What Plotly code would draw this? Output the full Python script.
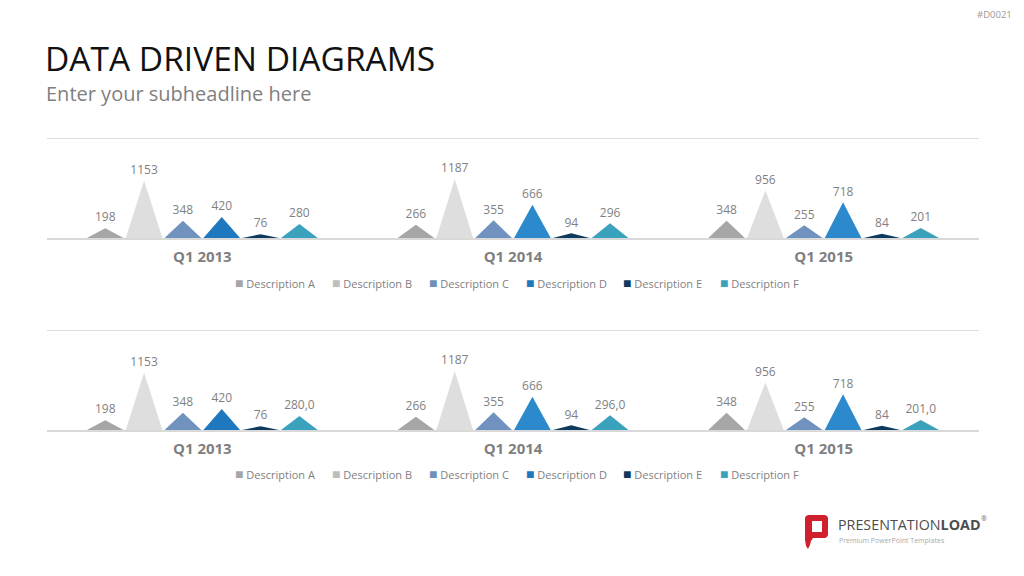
import plotly.graph_objects as go

W, H = 1024, 576

categories = ["Q1 2013", "Q1 2014", "Q1 2015"]
series_names = ["Description A", "Description B", "Description C",
                "Description D", "Description E", "Description F"]
desc_a = [198, 266, 348]
desc_b = [1153, 1187, 956]
desc_c = [348, 355, 255]
desc_d = [420, 666, 718]
desc_e = [76, 94, 84]
desc_f = [280, 296, 201]
series_values = [desc_a, desc_b, desc_c, desc_d, desc_e, desc_f]

legend_colors = ["#A6A6A6", "#BDBDBD", "#7090BA", "#1F78BE", "#0E3A5E", "#3AA2BC"]
point_colors = [
    ["#A6A6A6"] * 3,
    ["#DEDEDE"] * 3,
    ["#7092BE"] * 3,
    ["#1F78BE", "#2B89CC", "#2B89CC"],
    ["#0E3A5E"] * 3,
    ["#3AA2BC"] * 3,
]
# decimals shown per series in each chart (chart 2 shows F with one decimal)
decimals_chart1 = [0, 0, 0, 0, 0, 0]
decimals_chart2 = [0, 0, 0, 0, 0, 1]

FONT = "Open Sans"
GRAY = "#7F7F7F"
LABEL_PAD = 75  # small lift of value labels above the peaks (data units)

def px(x):
    return x / W

def py(y):
    return 1 - y / H

def fmt(v, dec):
    return (f"{v:.{dec}f}").replace(".", ",")

fig = go.Figure()

slot = 0.125
tri_w = 0.118

charts = [
    dict(xa="x", ya="y", legend="legend", dec=decimals_chart1),
    dict(xa="x2", ya="y2", legend="legend2", dec=decimals_chart2),
]

for ch in charts:
    for s, (name, vals) in enumerate(zip(series_names, series_values)):
        off = (s - 2.5) * slot
        for c, v in enumerate(vals):
            cx = c + off
            fig.add_trace(go.Scatter(
                x=[cx - tri_w / 2, cx, cx + tri_w / 2, cx - tri_w / 2],
                y=[0, v, 0, 0],
                mode="lines", fill="toself",
                fillcolor=point_colors[s][c], line=dict(width=0),
                xaxis=ch["xa"], yaxis=ch["ya"],
                showlegend=False, hoverinfo="skip",
            ))
        fig.add_trace(go.Scatter(
            x=[c + off for c in range(len(vals))], y=[v + LABEL_PAD for v in vals],
            mode="text",
            text=[fmt(v, ch["dec"][s]) for v in vals],
            textposition="top center",
            textfont=dict(family=FONT, size=12, color=GRAY),
            xaxis=ch["xa"], yaxis=ch["ya"],
            showlegend=False, hoverinfo="skip", cliponaxis=False,
        ))
    for s, name in enumerate(series_names):
        fig.add_trace(go.Scatter(
            x=[None], y=[None], mode="markers",
            name=f'<span style="color:{legend_colors[s]};font-size:14px">■</span> {name}',
            marker=dict(symbol="square", size=1, color="rgba(0,0,0,0)"),
            xaxis=ch["xa"], yaxis=ch["ya"], legend=ch["legend"],
            legendwidth=(90 if s == len(series_names) - 1 else None),
        ))

# 2000 units = 99.5 px; top gridline at 2000
SCALE = 99.5 / 2000
YMAX = 2030
xdom = [px(47), px(979)]
common_x = dict(
    domain=xdom, range=[-0.5, 2.5], tickvals=[0, 1, 2], ticktext=categories,
    showgrid=False, zeroline=False, showline=True, linecolor="#D9D9D9", linewidth=2,
    ticks="outside", ticklen=4, tickcolor="rgba(0,0,0,0)",
    tickfont=dict(family=FONT, size=15, color=GRAY, weight="bold"),
    fixedrange=True,
)
common_y = dict(
    range=[0, YMAX], tickvals=[2000], showticklabels=False, showgrid=True,
    gridcolor="#DDDDDD", gridwidth=1, zeroline=False, showline=False, fixedrange=True,
)

legend_common = dict(
    orientation="h", xanchor="left", x=px(195), yanchor="middle",
    font=dict(family=FONT, size=11, color=GRAY), bgcolor="rgba(0,0,0,0)",
    itemwidth=30, entrywidth=52, entrywidthmode="pixels", tracegroupgap=0,
)

fig.update_layout(
    width=W, height=H, margin=dict(l=0, r=0, t=0, b=0),
    paper_bgcolor="white", plot_bgcolor="white",
    xaxis=dict(**common_x, anchor="y"),
    yaxis=dict(**common_y, domain=[py(238), py(238 - YMAX * SCALE)], anchor="x"),
    xaxis2=dict(**common_x, anchor="y2"),
    yaxis2=dict(**common_y, domain=[py(430), py(430 - YMAX * SCALE)], anchor="x2"),
    legend=dict(**legend_common, y=py(284)),
    legend2=dict(**legend_common, y=py(475)),
    showlegend=True,
)

annotations = [
    dict(text="DATA DRIVEN DIAGRAMS", x=px(43), y=py(58), xanchor="left", yanchor="middle",
         font=dict(family=FONT, size=33.5, color="#111111")),
    dict(text="Enter your subheadline here", x=px(44), y=py(94), xanchor="left", yanchor="middle",
         font=dict(family=FONT, size=20, color="#808080")),
    dict(text="#D0021", x=px(1014), y=py(14), xanchor="right", yanchor="middle",
         font=dict(family=FONT, size=9.5, color="#999999")),
    dict(text="PRESENTATION<b>LOAD</b>", x=px(836), y=py(524), xanchor="left", yanchor="middle",
         font=dict(family=FONT, size=14.3, color="#4D4D4D")),
    dict(text="®", x=px(979), y=py(518), xanchor="left", yanchor="middle",
         font=dict(family=FONT, size=7, color="#666666")),
    dict(text="Premium PowerPoint Templates", x=px(837), y=py(540), xanchor="left", yanchor="middle",
         font=dict(family=FONT, size=7, color="#AAAAAA")),
]
for a in annotations:
    a.update(xref="paper", yref="paper", showarrow=False)
fig.update_layout(annotations=annotations)

def path_px(pts):
    return "M " + " L ".join(f"{px(x):.5f},{py(y):.5f}" for x, y in pts) + " Z"

logo_outer = [(808, 515), (825, 515), (827, 516), (828, 518), (828, 535), (827, 537), (825, 538),
              (813, 538), (811, 541), (810, 545), (808, 549), (806, 546), (805, 540), (805, 518),
              (806, 516)]
logo_inner = [(812, 521), (822, 521), (822, 532), (812, 532)]
fig.update_layout(shapes=[
    dict(type="path", path=path_px(logo_outer), xref="paper", yref="paper",
         fillcolor="#D0202E", line=dict(width=0)),
    dict(type="path", path=path_px(logo_inner), xref="paper", yref="paper",
         fillcolor="white", line=dict(width=0)),
])

fig.write_html("out.html")
